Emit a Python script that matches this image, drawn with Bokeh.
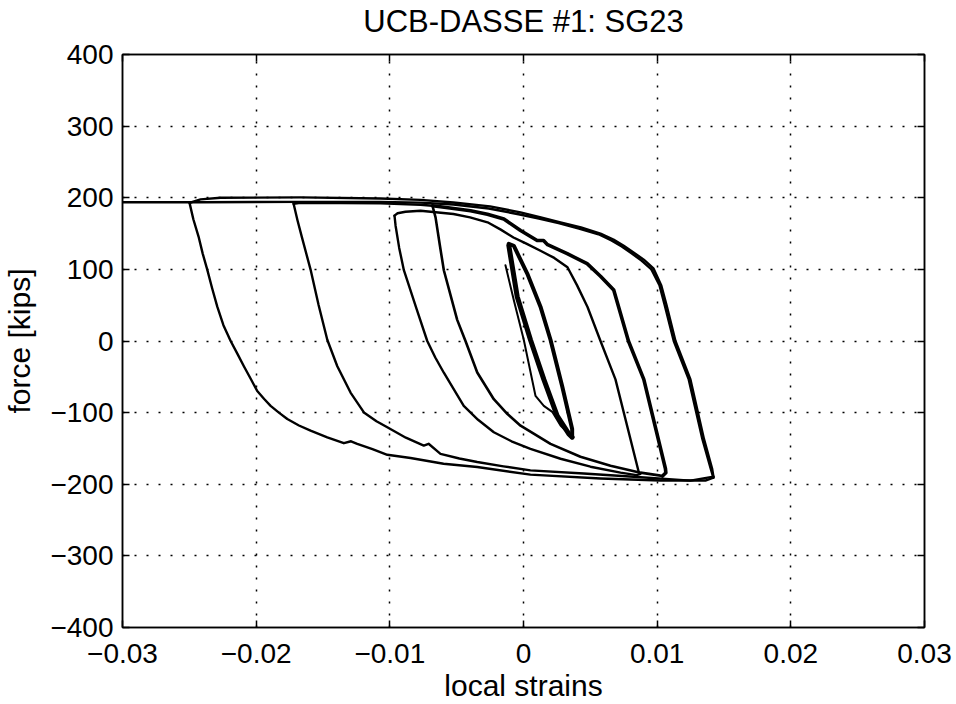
from bokeh.plotting import figure
from bokeh.models import Range1d, FixedTicker, LinearAxis
from bokeh.embed import file_html
from bokeh.resources import INLINE

# ---------------- text ----------------
title_text = "UCB-DASSE #1: SG23"
x_label = "local strains"
y_label = "force [kips]"

x_ticks = [-0.03, -0.02, -0.01, 0, 0.01, 0.02, 0.03]
x_tick_labels = ["\u22120.03", "\u22120.02", "\u22120.01", "0", "0.01", "0.02", "0.03"]
y_ticks = [-400, -300, -200, -100, 0, 100, 200, 300, 400]
y_tick_labels = ["\u2212400", "\u2212300", "\u2212200", "\u2212100", "0", "100", "200", "300", "400"]

# ---------------- data (strain, force in kips) ----------------
# small elastic cycles
thin_x = [-0.00135, -0.00070, 0.00002, 0.00090, 0.00152, 0.00215, 0.00277, 0.00364]
thin_y = [105.7, 55.0, 1.8, -76.7, -90.6, -98.9, -118.0, -134.3]

small_down_x = [-0.00110, -0.00047, 0.00052, 0.00152, 0.00252, 0.00339, 0.00364]
small_down_y = [133.4, 61.8, 1.8, -53.6, -104.4, -129.8, -134.3]

small_up_x = [0.00364, 0.00364, 0.00289, 0.00202, 0.00127, 0.00028, -0.00073, -0.00110]
small_up_y = [-134.3, -122.9, -62.9, 1.8, 47.9, 94.2, 133.0, 135.7]

# unloading branch from the tip near -0.0097
b3_x = [-0.00965, -0.00957, -0.00930, -0.00895, -0.00800, -0.00720, -0.00660, -0.00596,
        -0.00520, -0.00447, -0.00340, -0.00222, -0.00090, 0.00052, 0.00277, 0.00501,
        0.00726, 0.00845, 0.00875, 0.00862]
b3_y = [175.0, 161.0, 130.0, 98.8, 45.0, 0.0, -23.0, -44.3,
        -68.0, -90.6, -110.0, -127.4, -140.0, -150.6, -164.4, -175.5,
        -183.8, -187.3, -185.5, -182.8]

# reloading branch from the tip near +0.0086
uc_x = [0.00862, 0.00688, 0.00576, 0.00479, 0.00400, 0.00329, 0.00230, 0.00127, 0.00025,
        -0.00075, -0.00170, -0.00269, -0.00400, -0.00524, -0.00770, -0.00883, -0.00942,
        -0.00965]
uc_y = [-182.8, -53.6, 0.0, 47.5, 78.0, 102.9, 116.0, 126.0, 135.5,
        144.5, 155.5, 165.7, 172.5, 177.3, 181.9, 180.5, 178.4,
        175.0]

# unloading branch from the tip near -0.0068
b4_x = [-0.00681, -0.00658, -0.00627, -0.00596, -0.00496, -0.00434, -0.00346, -0.00222,
        -0.00120, -0.00022, 0.00202, 0.00426, 0.00651, 0.00875, 0.01025, 0.01040]
b4_y = [188.8, 172.6, 135.0, 98.8, 29.5, 0.0, -43.9, -81.3,
        -102.0, -118.3, -143.6, -161.6, -174.1, -183.8, -188.0, -188.5]

# reloading branch from the tip near +0.0105 (repeated cycles, thick)
ub_x = [0.01040, 0.01065, 0.01062, 0.00900, 0.00785, 0.00675, 0.00576, 0.00476, 0.00327,
        0.00180, 0.00150, 0.00102, -0.00022, -0.00147, -0.00270, -0.00396, -0.00621,
        -0.00681]
ub_y = [-188.5, -184.0, -178.3, -53.6, 0.0, 71.1, 90.4, 108.0, 121.9,
        134.5, 140.3, 140.3, 154.2, 170.4, 177.0, 181.9, 187.4,
        188.8]

ub_ext_x = [-0.00681, -0.00770, -0.01070, -0.01668, -0.01720]
ub_ext_y = [188.8, 190.2, 192.2, 192.9, 191.6]

# unloading branch from the tip near -0.0172
b2_x = [-0.01720, -0.01690, -0.01658, -0.01593, -0.01533, -0.01468, -0.01393, -0.01294,
        -0.01194, -0.01100, -0.01019, -0.00880, -0.00746, -0.00710, -0.00621, -0.00480,
        -0.00346, -0.00150, 0.00052, 0.00450, 0.00823, 0.01249, 0.01421]
b2_y = [191.6, 168.0, 145.0, 99.7, 50.3, 1.8, -35.2, -72.0,
        -99.7, -112.0, -120.5, -135.0, -146.0, -143.5, -157.5, -164.0,
        -169.0, -175.0, -180.6, -185.0, -189.5, -194.9, -189.3]

# reloading branch from the tip near +0.0142 up to the tip near -0.025
ua_x = [0.01421, 0.01411, 0.01350, 0.01249, 0.01137, 0.01070, 0.01030, 0.00972, 0.00900,
        0.00823, 0.00750, 0.00673, 0.00576, 0.00430, 0.00277, 0.00130, -0.00022,
        -0.00250, -0.00524, -0.00770, -0.01070, -0.01668, -0.02266, -0.02416, -0.02476,
        -0.02498]
ua_y = [-189.3, -178.0, -136.7, -53.6, 0.0, 50.3, 78.0, 101.4, 113.5,
        123.7, 133.0, 141.7, 150.0, 158.5, 165.7, 172.5, 179.5,
        188.0, 193.4, 197.0, 199.0, 200.5, 199.9, 197.8, 194.3,
        192.5]

# unloading branch from the tip near -0.025
b1_x = [-0.02498, -0.02470, -0.02431, -0.02400, -0.02366, -0.02330, -0.02291, -0.02245,
        -0.02191, -0.02140, -0.02092, -0.02040, -0.01992, -0.01940, -0.01892, -0.01830,
        -0.01767, -0.01680, -0.01593, -0.01468, -0.01344, -0.01290, -0.01244, -0.01130,
        -0.01019, -0.00845, -0.00598, -0.00346, 0.00052, 0.00576, 0.01025, 0.01361,
        0.01421]
b1_y = [192.5, 170.0, 145.8, 122.0, 99.7, 74.0, 47.9, 22.0,
        0.0, -18.0, -35.2, -53.0, -69.8, -81.0, -90.6, -100.0,
        -109.0, -118.0, -125.2, -134.4, -142.7, -140.0, -143.5, -151.0,
        -158.9, -163.4, -171.3, -175.9, -186.6, -192.0, -194.8, -194.8,
        -190.7]

# last reloading branch, running past the left edge
final_x = [0.01421, 0.01400, 0.01338, 0.01236, 0.01124, 0.01056, 0.01017, 0.00957, 0.00885,
           0.00808, 0.00735, 0.00658, 0.00561, 0.00415, 0.00262, 0.00115, -0.00037,
           -0.00260, -0.00524, -0.00770, -0.01070, -0.01668, -0.02416, -0.03020]
final_y = [-191.0, -178.0, -136.7, -53.6, 0.0, 50.3, 78.0, 100.0, 112.0,
           122.5, 132.0, 140.5, 149.0, 157.0, 164.5, 171.0, 177.0,
           185.0, 190.5, 193.2, 194.2, 194.2, 193.8, 193.8]

FONT = "Liberation Sans"

p = figure(width=956, height=704,
           x_range=Range1d(-0.03, 0.03), y_range=Range1d(-400, 400),
           output_backend="svg", toolbar_location=None,
           min_border_left=122, min_border_right=32,
           min_border_top=53, min_border_bottom=74,
           background_fill_color="white", border_fill_color="white")

p.outline_line_color = "black"
p.outline_line_width = 1.5

xt = FixedTicker(ticks=x_ticks)
yt = FixedTicker(ticks=y_ticks)

for ax in p.xaxis:
    ax.ticker = xt
    ax.major_label_overrides = dict(zip(x_ticks, x_tick_labels))
    ax.axis_label = x_label
for ax in p.yaxis:
    ax.ticker = yt
    ax.major_label_overrides = dict(zip(y_ticks, y_tick_labels))
    ax.axis_label = y_label

for ax in list(p.xaxis) + list(p.yaxis):
    ax.major_label_text_font = FONT
    ax.major_label_text_font_size = "28px"
    ax.major_label_text_color = "black"
    ax.axis_label_text_font = FONT
    ax.axis_label_text_font_size = "30px"
    ax.axis_label_text_font_style = "normal"
    ax.axis_label_text_color = "black"
    ax.major_tick_in = 7
    ax.major_tick_out = 0
    ax.minor_tick_in = 0
    ax.minor_tick_out = 0
    ax.major_tick_line_color = "black"
    ax.major_tick_line_width = 1.5
    ax.axis_line_color = "black"
    ax.axis_line_width = 1.5

for ax in p.xaxis:
    ax.major_label_standoff = 16
    ax.axis_label_standoff = 3
for ax in p.yaxis:
    ax.major_label_standoff = 9
    ax.axis_label_standoff = 11

# top axis: ticks only, its axis label carries the chart title
top_ax = LinearAxis(ticker=xt, major_label_text_font_size="2px",
                    major_label_text_color=None, major_tick_in=7,
                    major_tick_out=0, minor_tick_in=0, minor_tick_out=0,
                    major_label_standoff=0, axis_line_width=1.5,
                    major_tick_line_width=1.5,
                    axis_label=title_text, axis_label_text_font=FONT,
                    axis_label_text_font_size="31px",
                    axis_label_text_font_style="normal",
                    axis_label_text_color="black",
                    axis_label_standoff=16)
right_ax = LinearAxis(ticker=yt, major_label_text_font_size="2px",
                      major_label_text_color=None, major_tick_in=7,
                      major_tick_out=0, minor_tick_in=0, minor_tick_out=0,
                      major_label_standoff=0, axis_line_width=1.5,
                      major_tick_line_width=1.5)
p.add_layout(top_ax, "above")
p.add_layout(right_ax, "right")

for g in (p.xgrid, p.ygrid):
    g.grid_line_color = "black"
    g.grid_line_width = 1.5
    g.grid_line_dash = "2 10"
p.xgrid.ticker = xt
p.ygrid.ticker = yt

def draw(xs, ys, w=2.4):
    p.line(xs, ys, line_color="black", line_width=w, line_join="round", line_cap="round")

draw(thin_x, thin_y, 2.0)
draw(small_down_x, small_down_y, 5.0)
draw(small_up_x, small_up_y, 4.0)
draw(b3_x, b3_y)
draw(uc_x, uc_y)
draw(b4_x, b4_y, 2.6)
draw(ub_x, ub_y, 3.6)
draw(ub_ext_x, ub_ext_y)
draw(b2_x, b2_y)
draw(ua_x, ua_y)
draw(b1_x, b1_y)
draw(final_x, final_y)

open("out.html", "w").write(file_html(p, INLINE))
